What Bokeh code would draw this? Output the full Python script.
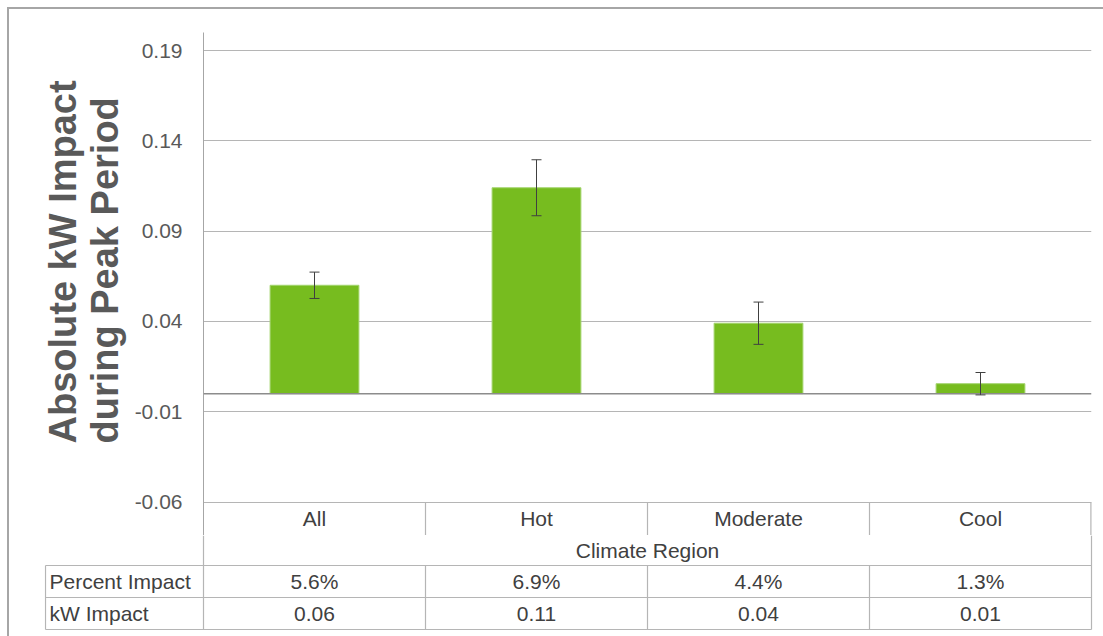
from bokeh.plotting import figure
from bokeh.models import (FactorRange, Range1d, FixedTicker, PrintfTickFormatter, Span,
                          Whisker, TeeHead, ColumnDataSource, Spacer, Title)
from bokeh.layouts import column, row
from bokeh.embed import file_html
from bokeh.resources import INLINE
from bokeh.core.properties import value

# ---------------- data ----------------
categories = ["All", "Hot", "Moderate", "Cool"]
kw_impact = [0.060, 0.114, 0.039, 0.0055]
kw_error = [0.0073, 0.0155, 0.0117, 0.0062]
y_ticks = [-0.06, -0.01, 0.04, 0.09, 0.14, 0.19]
percent_labels = ["5.6%", "6.9%", "4.4%", "1.3%"]
kw_labels = ["0.06", "0.11", "0.04", "0.01"]
row_names = ["Percent Impact", "kW Impact"]
x_title = "Climate Region"
y_title = "Absolute kW Impact\nduring Peak Period"

# ---------------- style / geometry ----------------
FONT = "Liberation Sans"
TXT = "#404040"
GRID = "#b5b5b5"
AXIS = "#a6a6a6"
FRAME = "#a6a6a6"
GREEN = "#77BC1F"
FS = "21px"

OFF = 7          # page offset of outer frame lines
LINE = 2         # outer frame line thickness
X0 = OFF + LINE  # page x/y where figures start
W = 1103 - X0
SPLIT = 535      # page y where chart figure ends and table figure begins
HA = SPLIT - X0
HB = 636 - SPLIT
FRAME_LEFT_PX = 203
FRAME_RIGHT_PX = 1091
FRAME_TOP_PX = 32
LEFT_A = FRAME_LEFT_PX - X0
RIGHT_A = 1103 - FRAME_RIGHT_PX
TOP_A = FRAME_TOP_PX - X0
UNIT = (FRAME_RIGHT_PX - FRAME_LEFT_PX) / len(categories)   # px per category
PX_PER_Y = 1806.0
y_top = 0.19 + 18 / PX_PER_Y
y_bot = y_top - (HA - TOP_A) / PX_PER_Y
y_cat_label = y_ticks[0] - 16 / PX_PER_Y

# ---------------- chart ----------------
pa = figure(width=W, height=HA,
            x_range=FactorRange(factors=categories, range_padding=0),
            y_range=Range1d(y_bot, y_top),
            output_backend="svg", toolbar_location=None, x_axis_location=None,
            min_border_left=LEFT_A, min_border_right=RIGHT_A,
            min_border_top=TOP_A, min_border_bottom=0,
            outline_line_color=None, background_fill_color="white",
            border_fill_color="white")

src = ColumnDataSource(dict(
    cat=categories, kw=kw_impact,
    hi=[v + e for v, e in zip(kw_impact, kw_error)],
    lo=[v - e for v, e in zip(kw_impact, kw_error)],
))

pa.vbar(x="cat", top="kw", bottom=0, width=0.4, source=src,
        fill_color=GREEN, line_color="#a3d46e", line_width=1)

pa.add_layout(Span(location=0, dimension="width", line_color="#8c8c8c", line_width=1.5))

wh = Whisker(base="cat", upper="hi", lower="lo", source=src, level="overlay",
             line_color="#404040", line_width=1,
             upper_head=TeeHead(size=10, line_color="#404040", line_width=1),
             lower_head=TeeHead(size=10, line_color="#404040", line_width=1))
pa.add_layout(wh)

# category row (below the -0.06 line)
div_x = [(c, -0.5) for c in categories[1:]]
pa.segment(x0=div_x, y0=[y_ticks[0]] * len(div_x), x1=div_x, y1=[y_bot] * len(div_x),
           line_color=GRID, line_width=1.2)
pa.segment(x0=[(categories[-1], 0.5)], y0=[y_ticks[0]], x1=[(categories[-1], 0.5)],
           y1=[y_bot], line_color=GRID, line_width=2.4)
pa.text(x=categories, y=[y_cat_label] * len(categories), text=categories,
        text_font=value(FONT), text_font_size=FS, text_color=TXT,
        text_align="center", text_baseline="middle")

ya = pa.yaxis[0]
ya.ticker = FixedTicker(ticks=y_ticks)
ya.formatter = PrintfTickFormatter(format="%.2f")
ya.major_tick_line_color = None
ya.minor_tick_line_color = None
ya.axis_line_color = AXIS
ya.axis_line_width = 1
ya.major_label_text_font = FONT
ya.major_label_text_font_size = FS
ya.major_label_text_color = "#595959"
ya.major_label_standoff = 15

pa.add_layout(Title(text=y_title, align="left", offset=92, standoff=11,
                    text_font=FONT, text_font_style="bold", text_font_size="38px",
                    text_line_height=1.0, text_color="#595959"), "left")

pa.ygrid.grid_line_color = GRID
pa.ygrid.grid_line_width = 1
pa.xgrid.grid_line_color = None

# ---------------- data table below chart ----------------
TBL_LEFT_PX = 45
FRAME_B_LEFT_PX = 44
FRAME_B_RIGHT_PX = 1093
LEFT_B = FRAME_B_LEFT_PX - X0
RIGHT_B = 1103 - FRAME_B_RIGHT_PX
ncat = len(categories)
xb0 = (FRAME_B_LEFT_PX - FRAME_LEFT_PX) / UNIT
xb1 = (FRAME_B_RIGHT_PX - FRAME_LEFT_PX) / UNIT
tbl_left = (TBL_LEFT_PX - FRAME_LEFT_PX) / UNIT

pb = figure(width=W, height=HB, x_range=Range1d(xb0, xb1), y_range=Range1d(HB, 0),
            output_backend="svg", toolbar_location=None,
            x_axis_location=None, y_axis_location=None,
            min_border_left=LEFT_B, min_border_right=RIGHT_B,
            min_border_top=0, min_border_bottom=0,
            outline_line_color=None, background_fill_color="white",
            border_fill_color="white")
pb.xgrid.visible = False
pb.ygrid.visible = False

# local y in px below page y=SPLIT
r1_top, r2_top, r_bot = 565 - SPLIT, 597 - SPLIT, 629 - SPLIT
x0s, y0s, x1s, y1s = [], [], [], []
for i in range(1, ncat):
    x0s += [i]; y0s += [r1_top]; x1s += [i]; y1s += [r_bot]
x0s += [0, ncat, tbl_left]; y0s += [0, 0, r1_top]
x1s += [0, ncat, tbl_left]; y1s += [r_bot, r_bot, r_bot]
for yy in (r1_top, r2_top, r_bot):
    x0s += [tbl_left]; y0s += [yy]; x1s += [ncat]; y1s += [yy]
pb.segment(x0=x0s, y0=y0s, x1=x1s, y1=y1s, line_color=GRID, line_width=1.2)

centers = [i + 0.5 for i in range(ncat)]
common = dict(text_font=value(FONT), text_font_size=FS, text_color=TXT,
              text_baseline="middle")
pb.text(x=[ncat / 2], y=[550 - SPLIT], text=[x_title], text_align="center", **common)
pb.text(x=centers, y=[(r1_top + r2_top) / 2] * ncat, text=percent_labels,
        text_align="center", **common)
pb.text(x=centers, y=[(r2_top + r_bot) / 2] * ncat, text=kw_labels,
        text_align="center", **common)
lx = tbl_left + 4 / UNIT
pb.text(x=[lx, lx], y=[(r1_top + r2_top) / 2, (r2_top + r_bot) / 2], text=row_names,
        text_align="left", **common)

# ---------------- frame lines & layout ----------------
bg = {"background-color": FRAME}
root1 = column(
    Spacer(width=1103, height=OFF),
    row(Spacer(width=OFF, height=LINE + HA),
        column(Spacer(width=1103 - OFF, height=LINE, styles=bg),
               row(Spacer(width=LINE, height=HA, styles=bg), pa))))
root2 = row(Spacer(width=OFF, height=HB), Spacer(width=LINE, height=HB, styles=bg), pb)

open("out.html", "w").write(file_html([root1, root2], INLINE))
